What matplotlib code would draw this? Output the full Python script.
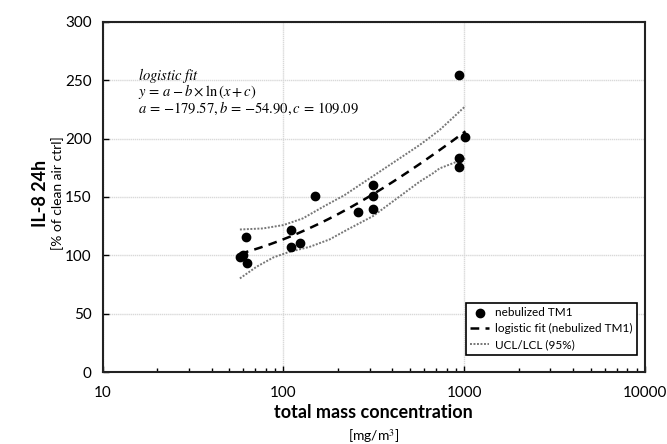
import numpy as np
import matplotlib
matplotlib.use("Agg")
import matplotlib.pyplot as plt
from matplotlib.ticker import FixedLocator, LogLocator, NullFormatter

plt.rcParams["font.family"] = ["Lato", "DejaVu Sans"]
plt.rcParams["mathtext.fontset"] = "stix"

# measured points (nebulized TM1)
conc = [57.4, 59.8, 61.9, 62.5, 110, 110, 124, 150, 259, 311, 311, 311, 933, 933, 933, 1016]
il8 = [98.7, 100.2, 115.4, 93.6, 121.6, 107, 110.7, 151, 137.3, 160.1, 150.7, 139.8, 254.3, 183, 175.3, 201.5]

# logistic fit parameters, as printed on the chart
fit_a, fit_b, fit_c = -179.57, -54.90, 109.09

# 95% confidence band
ucl_x = [57.4, 77, 100, 128, 166, 218, 566, 617, 730, 1016]
ucl_y = [122.1, 123, 125.9, 131.6, 141.6, 151.6, 194.4, 198.7, 207.2, 227.8]
lcl_x = [57.4, 71, 88, 108, 140, 180, 227, 313, 566, 671, 730, 1016]
lcl_y = [80.2, 90.2, 98.2, 103, 107.3, 113.6, 122.2, 133.6, 163, 170.2, 174.4, 183]

x_ticks = [10, 100, 1000, 10000]
y_ticks = [0, 50, 100, 150, 200, 250, 300]

fig = plt.figure(figsize=(6.67, 4.44), dpi=100)
ax = fig.add_axes([0.154, 0.162, 0.813, 0.789])

ax.scatter(conc, il8, s=36, color="black", zorder=4, label="nebulized TM1")

xf = np.geomspace(min(conc), max(conc), 200)
yf = fit_a - fit_b * np.log(xf + fit_c)
ax.plot(xf, yf, color="black", lw=1.8, ls=(0, (3.5, 2.5)), zorder=3,
        label="logistic fit (nebulized TM1)")

ax.plot(ucl_x, ucl_y, color="#777777", lw=1.4, ls=(0, (1, 0.8)), zorder=2,
        label="UCL/LCL (95%)")
ax.plot(lcl_x, lcl_y, color="#777777", lw=1.4, ls=(0, (1, 0.8)), zorder=2)

ax.set_xscale("log")
ax.set_xlim(10, 10000)
ax.set_ylim(0, 300)
ax.xaxis.set_major_locator(FixedLocator(x_ticks))
ax.set_xticklabels([str(t) for t in x_ticks])
ax.xaxis.set_minor_locator(LogLocator(base=10, subs=np.arange(2, 10)))
ax.xaxis.set_minor_formatter(NullFormatter())
ax.set_yticks(y_ticks)

ax.grid(True, which="major", color="#d9d9d9", lw=1.0, ls=(0, (1, 0.5)))
ax.set_axisbelow(True)
for s in ax.spines.values():
    s.set_linewidth(1.5)
    s.set_color("#222222")

ax.tick_params(axis="both", which="major", direction="in", length=4, width=1,
               labelsize=11, pad=8)
ax.tick_params(axis="x", which="minor", direction="in", length=3, width=1)
ax.tick_params(axis="x", which="major", pad=10)

# axis titles in two lines
fig.text(0.06, 0.565, "IL-8 24h", rotation=90, ha="center", va="center",
         fontsize=13, fontweight="bold")
fig.text(0.087, 0.565, "[% of clean air ctrl]", rotation=90, ha="center",
         va="center", fontsize=10)
fig.text(0.56, 0.072, "total mass concentration", ha="center", va="center",
         fontsize=13, fontweight="bold")
fig.text(0.56, 0.017, "[mg/m$^3$]", ha="center", va="center", fontsize=10)

# fit annotation
ann = [r"$logistic\ fit$",
       r"$y\,=\,a-b\times\mathrm{ln}\,(x+c)$",
       r"$a\,=\,{-179.57}, b\,=\,{-54.90}, c\,=\,109.09$"]
ax.text(0.065, 0.875, "\n".join(ann), transform=ax.transAxes,
        fontsize=10.5, va="top", ha="left", linespacing=0.85)

leg = ax.legend(loc="lower right", bbox_to_anchor=(0.985, 0.05), fontsize=8.5,
                frameon=True, fancybox=False, edgecolor="black", framealpha=1,
                handlelength=1.6, handletextpad=0.5, borderpad=0.35,
                labelspacing=0.45, borderaxespad=0)
leg.get_frame().set_linewidth(1.2)

fig.savefig("out.png", dpi=100)
